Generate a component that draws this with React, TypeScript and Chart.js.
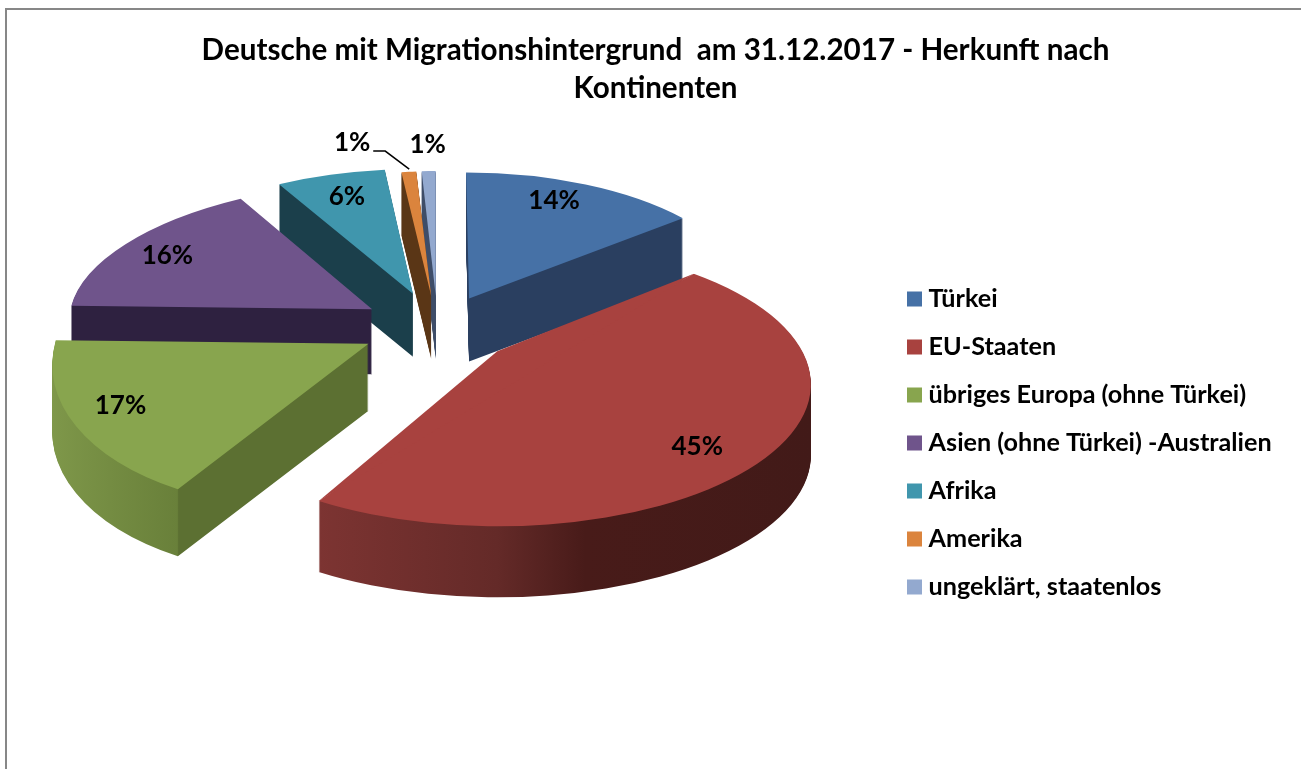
import React, { useEffect, useRef } from "react";
import { Chart, registerables } from "chart.js";

Chart.register(...registerables);

const categories = [
  "Türkei",
  "EU-Staaten",
  "übriges Europa (ohne Türkei)",
  "Asien (ohne Türkei) -Australien",
  "Afrika",
  "Amerika",
  "ungeklärt, staatenlos",
];
const shares = [14, 45, 17, 16, 6, 1, 1];
const titleLines = ["Deutsche mit Migrationshintergrund  am 31.12.2017 - Herkunft nach", "Kontinenten"];

const topColors = ["#4671A6", "#A8423F", "#88A54E", "#6F548B", "#4096AD", "#DB843D", "#93A9CF"];
// wall colours: [position across the slice's full circle, colour]
const wallStops: [number, string][][] = [
  [[0, "#2A3F60"], [1, "#2A3F60"]],
  [[0.21, "#7D3432"], [0.5, "#642A28"], [0.64, "#481B19"], [1, "#421A18"]],
  [[0, "#7F984A"], [0.231, "#69803A"], [0.233, "#5C7032"], [1, "#5C7032"]],
  [[0, "#2E2140"], [1, "#2E2140"]],
  [[0, "#1B3F4B"], [1, "#1B3F4B"]],
  [[0, "#5A3616"], [1, "#5A3616"]],
  [[0, "#3E4D68"], [1, "#3E4D68"]],
];
// perspective look of each slice
const explode = [73, 79, 78, 78, 81, 72, 72];
const stretchX = [1, 1.12, 1.125, 1.08, 1.05, 0.85, 0.8];
const stretchY = [1.01, 1.137, 1.345, 1.03, 1, 1, 1];
const skewX = [0.024, 0, -0.154, -0.126, -0.07, 0, 0];
const shearY = [0, 0, -0.022, -0.015, 0, 0, 0];
const centreDrop = [0, 33, 0, 0, 0, 0, 0];
const warpStartDeg = [0, 11.6, 0, 0, 0, 0, 0];
const warpEndDeg = [0, 2.3, 0, 0, 0, 0, 0];
const wallDepth = [63, 71, 67, 65, 63, 63, 63];
const labelNudge: (number[] | null)[] = [[85, -98], [200, 95], [-248, 62], null, [-66, -97], [-79, -153], [-8, -151]];

const PIE_RADIUS = 280;
const PIE_CX = 438;
const PIE_CY = 328;
const SQUASH = 0.446;
const LABEL_FRACTION = 0.83;
const FONT = "Lato, Carlito, sans-serif";

function drawPie(chart: any) {
  const { ctx } = chart;
  const arcs: any[] = chart.getDatasetMeta(0).data;
  const items = arcs.map((el, i) => {
    const mid = (el.startAngle + el.endAngle) / 2;
    const apexX = PIE_CX + Math.cos(mid) * explode[i];
    const apexY = PIE_CY + Math.sin(mid) * explode[i] * SQUASH;
    return { el, i, mid, apexX, apexY };
  });
  const distFromFront = (m: number) => Math.abs(Math.atan2(Math.cos(m), Math.sin(m)));
  const order = [...items].sort((a, b) => distFromFront(b.mid) - distFromFront(a.mid));

  const place = (it: any, dy: number) => {
    ctx.translate(it.apexX, it.apexY + dy + centreDrop[it.i]);
    ctx.transform(1, shearY[it.i], skewX[it.i], 1, 0, 0);
    ctx.scale(stretchX[it.i], SQUASH * stretchY[it.i]);
    ctx.translate(-it.el.x, -it.el.y);
  };

  order.forEach((it) => {
    const { el, i } = it;
    const startAngle = el.startAngle - (warpStartDeg[i] * Math.PI) / 180;
    const endAngle = el.endAngle + (warpEndDeg[i] * Math.PI) / 180;
    const warped = { startAngle, endAngle, circumference: endAngle - startAngle };

    const wall = Object.assign(Object.create(el), warped);
    const grad = ctx.createLinearGradient(el.x - PIE_RADIUS, 0, el.x + PIE_RADIUS, 0);
    wallStops[i].forEach(([t, c]) => grad.addColorStop(t, c));
    wall.options = { ...el.options, backgroundColor: grad, borderWidth: 0 };
    for (let d = wallDepth[i]; d >= 1; d--) {
      ctx.save();
      place(it, d);
      wall.draw(ctx);
      ctx.restore();
    }

    const top = Object.assign(Object.create(el), warped);
    top.options = el.options;
    ctx.save();
    place(it, 0);
    top.draw(ctx);
    if (centreDrop[i]) {
      // the wedge's point sits above the centre of its ellipse
      const liftY = centreDrop[i] / (SQUASH * stretchY[i]);
      ctx.beginPath();
      ctx.moveTo(el.x, el.y - liftY);
      ctx.lineTo(el.x + Math.cos(startAngle) * PIE_RADIUS, el.y + Math.sin(startAngle) * PIE_RADIUS);
      ctx.lineTo(el.x + Math.cos(endAngle) * PIE_RADIUS, el.y + Math.sin(endAngle) * PIE_RADIUS);
      ctx.closePath();
      ctx.fillStyle = topColors[i];
      ctx.fill();
    }
    ctx.restore();
  });

  // percentage labels
  ctx.save();
  ctx.font = `bold 26px ${FONT}`;
  ctx.fillStyle = "#000";
  ctx.textAlign = "center";
  ctx.textBaseline = "middle";
  items.forEach(({ i, mid, apexX, apexY }) => {
    const nudge = labelNudge[i];
    const lx = Math.cos(mid) * PIE_RADIUS * stretchX[i] * LABEL_FRACTION;
    const ly = Math.sin(mid) * PIE_RADIUS * SQUASH * stretchY[i] * LABEL_FRACTION;
    const x = apexX + (nudge ? nudge[0] : lx + skewX[i] * ly);
    const y = apexY + (nudge ? nudge[1] : ly + shearY[i] * lx);
    ctx.fillText(`${shares[i]}%`, x, y);
    if (i === 5) {
      ctx.beginPath();
      ctx.strokeStyle = "#000";
      ctx.lineWidth = 1.5;
      ctx.moveTo(x + 21, y + 8);
      ctx.lineTo(x + 33, y + 8);
      ctx.lineTo(x + 57, y + 26);
      ctx.stroke();
    }
  });
  ctx.restore();
}

const pie3d = {
  id: "pie3d",
  afterLayout(chart: any) {
    const lg = chart.legend;
    const shiftX = 890.2 - lg.left;
    lg.left += shiftX;
    lg.right += shiftX;
    const centre = (lg.top + lg.bottom) / 2;
    lg.top += 443 - centre;
    lg.bottom += 443 - centre;
  },
  beforeDraw(chart: any) {
    const { ctx, width, height } = chart;
    ctx.save();
    ctx.fillStyle = "#fff";
    ctx.fillRect(0, 0, width, height);
    ctx.strokeStyle = "#878787";
    ctx.lineWidth = 2;
    ctx.beginPath();
    ctx.moveTo(6, height);
    ctx.lineTo(6, 9);
    ctx.lineTo(width, 9);
    ctx.stroke();
    ctx.restore();
  },
  beforeDatasetDraw(chart: any) {
    drawPie(chart);
    return false;
  },
};

export default function App() {
  const ref = useRef<HTMLCanvasElement>(null);
  useEffect(() => {
    document.body.style.margin = "0";
    const chart = new Chart(ref.current!, {
      type: "pie",
      data: {
        labels: categories,
        datasets: [
          {
            data: shares,
            backgroundColor: topColors,
            borderWidth: 0,
            radius: PIE_RADIUS,
          } as any,
        ],
      },
      options: {
        responsive: false,
        animation: false,
        layout: { padding: { left: 10 } },
        plugins: {
          tooltip: { enabled: false },
          title: {
            display: true,
            text: titleLines,
            color: "#000",
            font: { family: FONT, size: 29.6, weight: "bold", lineHeight: 1.284 },
            padding: { top: 31, bottom: 10 },
          },
          legend: {
            position: "right",
            labels: {
              color: "#000",
              font: { family: FONT, size: 25.2, weight: "bold" },
              usePointStyle: true,
              pointStyle: "rect",
              boxWidth: 3,
              boxHeight: 15,
              padding: 22.8,
            },
          },
        },
      },
      plugins: [pie3d],
    } as any);
    return () => chart.destroy();
  }, []);
  return <canvas ref={ref} width={1301} height={769} style={{ display: "block" }} />;
}
